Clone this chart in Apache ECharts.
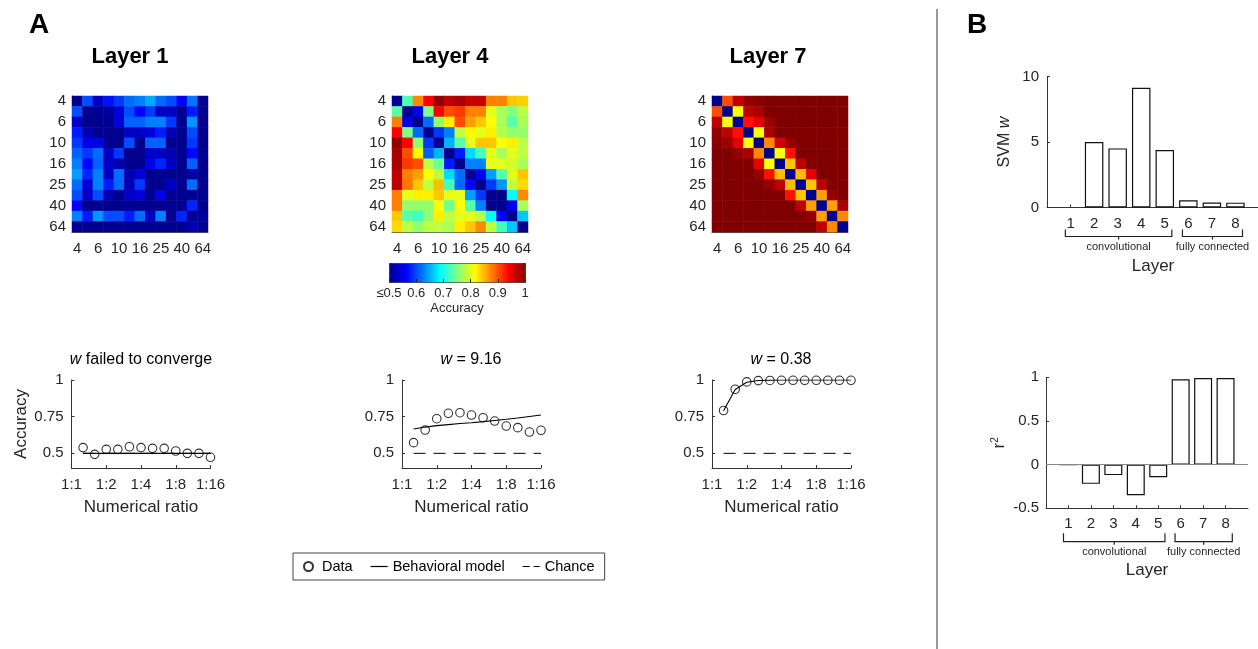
<!DOCTYPE html>
<html><head><meta charset="utf-8">
<script src="https://cdn.jsdelivr.net/npm/echarts@6/dist/echarts.min.js"></script>
<style>html,body{margin:0;padding:0;background:#fff}#c{width:1258px;height:649px}</style>
</head><body><div id="c"></div><script>
// ---------------- DATA ----------------
const numerosities = ['4','5','6','8','10','13','16','20','25','32','40','50','64'];

const layer1Acc = [
 [0.50,0.60,0.53,0.57,0.59,0.615,0.625,0.645,0.615,0.60,0.56,0.62,0.50],
 [0.60,0.50,0.50,0.51,0.54,0.60,0.56,0.59,0.53,0.53,0.50,0.575,0.50],
 [0.53,0.50,0.50,0.50,0.54,0.61,0.61,0.625,0.625,0.59,0.50,0.635,0.50],
 [0.575,0.52,0.50,0.50,0.50,0.53,0.53,0.54,0.575,0.52,0.50,0.60,0.50],
 [0.59,0.55,0.55,0.50,0.50,0.60,0.50,0.61,0.61,0.50,0.50,0.59,0.50],
 [0.61,0.59,0.615,0.53,0.59,0.50,0.50,0.53,0.53,0.52,0.50,0.565,0.50],
 [0.625,0.565,0.61,0.53,0.52,0.50,0.50,0.55,0.58,0.53,0.50,0.61,0.50],
 [0.64,0.58,0.625,0.53,0.615,0.52,0.54,0.50,0.50,0.50,0.50,0.51,0.50],
 [0.615,0.54,0.625,0.575,0.615,0.52,0.59,0.50,0.50,0.53,0.50,0.615,0.50],
 [0.60,0.53,0.60,0.52,0.50,0.53,0.54,0.50,0.55,0.50,0.50,0.50,0.50],
 [0.56,0.50,0.50,0.50,0.50,0.50,0.50,0.50,0.50,0.50,0.50,0.58,0.50],
 [0.625,0.575,0.635,0.60,0.60,0.575,0.615,0.53,0.625,0.50,0.58,0.50,0.51],
 [0.50,0.50,0.50,0.50,0.50,0.50,0.50,0.50,0.50,0.50,0.50,0.52,0.50]
];
const layer4Acc = [
 [0.50,0.725,0.87,0.94,0.99,0.97,0.98,0.965,0.965,0.875,0.875,0.84,0.835],
 [0.73,0.50,0.55,0.75,0.94,0.90,0.91,0.875,0.875,0.80,0.77,0.75,0.78],
 [0.875,0.55,0.50,0.615,0.76,0.82,0.90,0.86,0.84,0.81,0.77,0.73,0.77],
 [0.94,0.75,0.615,0.50,0.59,0.625,0.78,0.815,0.80,0.82,0.775,0.76,0.76],
 [0.99,0.94,0.76,0.59,0.50,0.65,0.73,0.80,0.84,0.84,0.81,0.82,0.78],
 [0.98,0.90,0.815,0.61,0.65,0.50,0.575,0.67,0.72,0.80,0.77,0.80,0.78],
 [0.98,0.91,0.90,0.78,0.74,0.575,0.50,0.625,0.625,0.80,0.80,0.79,0.77],
 [0.97,0.875,0.86,0.81,0.78,0.67,0.615,0.50,0.56,0.64,0.73,0.80,0.84],
 [0.97,0.88,0.84,0.78,0.845,0.72,0.615,0.56,0.50,0.59,0.635,0.78,0.83],
 [0.875,0.80,0.82,0.82,0.84,0.80,0.80,0.64,0.59,0.50,0.50,0.69,0.87],
 [0.875,0.76,0.76,0.76,0.81,0.74,0.81,0.73,0.625,0.50,0.50,0.55,0.77],
 [0.84,0.73,0.72,0.76,0.82,0.78,0.80,0.80,0.78,0.69,0.56,0.50,0.66],
 [0.83,0.78,0.76,0.78,0.78,0.77,0.82,0.84,0.87,0.78,0.72,0.66,0.50]
];
const layer7Acc = [
 [0.50,0.90,0.97,0.99,0.995,1,1,1,1,1,1,1,1],
 [0.90,0.50,0.81,0.97,0.98,1,1,1,1,1,1,1,1],
 [0.97,0.81,0.50,0.93,0.95,0.985,1,1,1,1,1,1,1],
 [0.99,0.97,0.93,0.50,0.81,0.98,1,1,1,1,1,1,1],
 [0.995,0.985,0.95,0.81,0.50,0.87,0.96,0.99,1,1,1,1,1],
 [1,1,0.99,0.98,0.87,0.50,0.81,0.93,1,1,1,1,1],
 [1,1,1,1,0.95,0.81,0.50,0.84,0.97,1,1,1,1],
 [1,1,1,1,0.99,0.93,0.845,0.50,0.845,0.95,1,1,1],
 [1,1,1,1,1,0.99,0.97,0.845,0.50,0.84,0.97,1,1],
 [1,1,1,1,1,1,1,0.93,0.84,0.50,0.86,0.99,1],
 [1,1,1,1,1,1,1,1,0.97,0.86,0.50,0.86,0.98],
 [1,1,1,1,1,1,1,1,1,0.99,0.86,0.50,0.87],
 [1,1,1,1,1,1,1,1,1,1,0.97,0.87,0.50]
];

// numerical ratio positions (log2 of ratio) and labels
const ratioX = [0.333,0.667,1,1.333,1.667,2,2.333,2.667,3,3.333,3.667,4];
const ratioTickLabels = ['1:1','1:2','1:4','1:8','1:16'];
const accTicks = [0.5,0.75,1];
const chanceLevel = 0.5;

const dataL1  = [0.539,0.493,0.527,0.527,0.545,0.539,0.534,0.534,0.516,0.500,0.500,0.473];
const modelL1 = [0.500,0.500,0.500,0.500,0.500,0.500,0.500,0.500,0.500,0.500,0.500,0.500];
const dataL4  = [0.573,0.659,0.736,0.773,0.777,0.761,0.743,0.720,0.686,0.675,0.645,0.657];
const modelL4 = [0.666,0.679,0.689,0.696,0.703,0.709,0.716,0.724,0.732,0.741,0.751,0.761];
const dataL7  = [0.792,0.937,0.987,0.996,0.997,0.998,0.998,0.998,0.998,0.998,0.998,0.998];
const modelL7 = [0.790,0.935,0.985,0.997,0.999,1.000,1.000,1.000,1.000,1.000,1.000,1.000];

const layerIds = [1,2,3,4,5,6,7,8];
const svmW = [null,5.0,4.52,9.16,4.39,0.55,0.38,0.37];
const r2   = [0,-0.22,-0.12,-0.35,-0.145,0.977,0.992,0.992];
const bracketLabels = ['convolutional','fully connected'];
const bracketRanges = [[0.78,5.3],[5.75,8.3]];

// ---------------- STYLE ----------------
const FONT = '"Liberation Sans", Arial, sans-serif';
const TXT = '#262626';
const AX = '#333';
const jet = ['#00008F','#0000FF','#0080FF','#00FFFF','#80FF80','#FFFF00','#FF8000','#FF0000','#800000'];

function heatData(m){ const out=[]; m.forEach((row,r)=>row.forEach((v,c)=>out.push([c,r,v]))); return out; }
function pts(xs, ys){ return ys.map((v,i)=>[xs[i], v]); }

const grids = [
 {left:72,  top:96, width:136, height:136},   //0 heat L1
 {left:392, top:96, width:136, height:136},   //1 heat L4
 {left:712, top:96, width:136, height:136},   //2 heat L7
 {left:389, top:263, width:136, height:19},   //3 colorbar axis
 {left:71.5, top:380, width:139, height:88},  //4 line L1
 {left:402, top:380, width:139, height:88},   //5 line L4
 {left:712, top:380, width:139, height:88},   //6 line L7
 {left:1047, top:76.7, width:212, height:130.8}, //7 SVM w
 {left:1046, top:377.3, width:202, height:131}   //8 r2
].map(g=>Object.assign({containLabel:false, outerBoundsMode:'none'}, g));

const lbl = (o)=>Object.assign({color:TXT, fontFamily:FONT, fontSize:15}, o||{});
const xAxes = [], yAxes = [];
[0,1,2].forEach(gi=>{
  xAxes.push({type:'category', gridIndex:gi, data:numerosities, axisLine:{show:true,lineStyle:{color:'#555'}},
    axisTick:{show:false}, splitLine:{show:false}, axisLabel:lbl({interval:1, margin:9})});
  yAxes.push({type:'category', gridIndex:gi, data:numerosities, inverse:true, axisLine:{show:true,lineStyle:{color:'#555'}},
    axisTick:{show:false}, splitLine:{show:false}, axisLabel:lbl({interval:1, margin:6})});
});
// colorbar axes
xAxes.push({type:'value', gridIndex:3, min:0.5, max:1, interval:0.1, position:'bottom', z:10,
  axisLine:{show:false}, axisTick:{show:true, inside:true, length:3, lineStyle:{color:'#222'}},
  splitLine:{show:false},
  axisLabel:lbl({fontSize:13, margin:5, formatter:(v)=> v<=0.5001 ? '≤0.5' : String(+v.toFixed(1))}),
  name:'Accuracy', nameLocation:'middle', nameGap:20, nameTextStyle:{color:TXT, fontFamily:FONT, fontSize:13}});
yAxes.push({type:'value', gridIndex:3, min:0, max:1, show:false});
// line chart axes
[4,5,6].forEach((gi,k)=>{
  xAxes.push({type:'value', gridIndex:gi, min:0, max:4, interval:1,
    axisLine:{show:true, lineStyle:{color:AX}}, axisTick:{show:true, inside:true, length:3, lineStyle:{color:AX}},
    splitLine:{show:false},
    axisLabel:lbl({margin:9.5, formatter:(v)=>ratioTickLabels[Math.round(v)]}),
    name:'Numerical ratio', nameLocation:'middle', nameGap:31, nameTextStyle:{color:TXT, fontFamily:FONT, fontSize:17}});
  const ya = {type:'value', gridIndex:gi, min:0.4, max:1,
    axisLine:{show:true, lineStyle:{color:AX}},
    axisTick:{show:true, inside:true, length:3, customValues:accTicks, lineStyle:{color:AX}},
    splitLine:{show:false},
    axisLabel:lbl({margin:8, customValues:accTicks})};
  if(k===0){ Object.assign(ya,{name:'Accuracy', nameLocation:'middle', nameGap:42, nameRotate:90,
    nameTextStyle:{color:TXT, fontFamily:FONT, fontSize:17}}); }
  yAxes.push(ya);
});
// bar chart axes
[7,8].forEach((gi,k)=>{
  xAxes.push({type:'value', gridIndex:gi, min:0, max:9, interval:1,
    axisLine:{show:true, onZero:false, lineStyle:{color:AX}},
    axisTick:{show:true, inside:true, length:3, customValues:layerIds, lineStyle:{color:AX}},
    splitLine:{show:false},
    axisLabel:lbl({margin:8.5, customValues:layerIds}),
    name:'Layer', nameLocation:'middle', nameGap: k===0 ? 50 : 54,
    nameTextStyle:{color:TXT, fontFamily:FONT, fontSize:17}});
});
yAxes.push({type:'value', gridIndex:7, min:0, max:10, interval:5,
  axisLine:{show:true, lineStyle:{color:AX}}, axisTick:{show:true, inside:true, length:3, lineStyle:{color:AX}},
  splitLine:{show:false}, axisLabel:lbl({margin:8}),
  name:'{n|SVM }{i|w}', nameLocation:'middle', nameGap:34, nameRotate:90,
  nameTextStyle:{color:TXT, fontFamily:FONT, fontSize:16,
    rich:{n:{fontSize:16, fontFamily:FONT, color:TXT}, i:{fontSize:16, fontFamily:FONT, color:TXT, fontStyle:'italic'}}}});
yAxes.push({type:'value', gridIndex:8, min:-0.5, max:1, interval:0.5,
  axisLine:{show:true, onZero:false, lineStyle:{color:AX}}, axisTick:{show:true, inside:true, length:3, lineStyle:{color:AX}},
  splitLine:{show:false}, axisLabel:lbl({margin:7}),
  name:'{r|r}{s|2}', nameLocation:'middle', nameGap:38, nameRotate:90,
  nameTextStyle:{color:TXT, fontFamily:FONT, fontSize:16,
    rich:{r:{fontSize:17, fontFamily:FONT, color:TXT}, s:{fontSize:10, fontFamily:FONT, color:TXT, verticalAlign:'top', padding:[0,0,8,0]}}}});

const series = [];
[layer1Acc, layer4Acc, layer7Acc].forEach((m,i)=>{
  series.push({type:'heatmap', xAxisIndex:i, yAxisIndex:i, data:heatData(m), silent:true, progressive:0,
    itemStyle:{borderWidth:0}, emphasis:{disabled:true}});
});
const lineSets = [[dataL1, modelL1],[dataL4, modelL4],[dataL7, modelL7]];
lineSets.forEach((s,k)=>{
  const ai = 4+k;
  series.push({type:'line', name:'Chance', xAxisIndex:ai, yAxisIndex:ai, symbol:'none', silent:true,
    data:[[ratioX[0], chanceLevel],[ratioX[ratioX.length-1], chanceLevel]],
    itemStyle:{color:'#000'}, lineStyle:{color:'#000', width:1, type:[12,8]}, z:2});
  series.push({type:'line', name:'Behavioral model', xAxisIndex:ai, yAxisIndex:ai, symbol:'none', silent:true,
    data:pts(ratioX, s[1]), itemStyle:{color:'#000'}, lineStyle:{color:'#000', width:1.1}, z:3});
  series.push({type:'scatter', name:'Data', xAxisIndex:ai, yAxisIndex:ai, symbol:'circle', symbolSize:8.5, silent:true,
    data:pts(ratioX, s[0]), itemStyle:{color:'transparent', borderColor:'#000', borderWidth:1.1}, z:4});
});
const barStyle = {color:'#fff', borderColor:'#111', borderWidth:1.2};
series.push({type:'bar', xAxisIndex:7, yAxisIndex:7, barWidth:18.5, silent:true,
  data: svmW.map((v,i)=>[layerIds[i], v===null ? '-' : v]), itemStyle:barStyle});
series.push({type:'bar', xAxisIndex:8, yAxisIndex:8, barWidth:18, silent:true,
  data: r2.map((v,i)=>[layerIds[i], v]), itemStyle:barStyle,
  markLine:{silent:true, symbol:'none', label:{show:false}, lineStyle:{color:'#888', type:'solid', width:1},
    data:[{yAxis:0}]}});

function bracketSeries(ai, yBase, off, up, textOff){
  return {type:'custom', xAxisIndex:ai, yAxisIndex:ai, clip:false, silent:true,
    encode:{x:[0,1], y:2},
    data: bracketRanges.map(r=>[r[0], r[1], yBase]),
    renderItem:(params, api)=>{
      const a = api.coord([api.value(0), api.value(2)]);
      const b = api.coord([api.value(1), api.value(2)]);
      const y = a[1] + off, mx = (a[0]+b[0])/2;
      return {type:'group', children:[
        {type:'polyline', shape:{points:[[a[0],y-up],[a[0],y],[b[0],y],[b[0],y-up]]}, style:{stroke:'#222', fill:null, lineWidth:1.2}},
        {type:'line', shape:{x1:mx, y1:y, x2:mx, y2:y+3}, style:{stroke:'#222', lineWidth:1.2}},
        {type:'text', x:mx, y:y+textOff, style:{text:bracketLabels[params.dataIndex], fill:TXT,
          font:'11px '+FONT, align:'center', verticalAlign:'middle'}}
      ]};
    }};
}
series.push(bracketSeries(7, 0, 29, 7, 10));
series.push(bracketSeries(8, -0.5, 33.4, 8.5, 10.5));

const titleFont = 'bold 22px '+FONT;
const subRich = {i:{fontStyle:'italic', fontSize:16, fontFamily:FONT, fill:'#000'}, n:{fontSize:16, fontFamily:FONT, fill:'#000'}};
const graphic = [
  {type:'text', x:39, y:25, style:{text:'A', font:'bold 28px '+FONT, fill:'#000', align:'center', verticalAlign:'middle'}},
  {type:'text', x:977, y:25, style:{text:'B', font:'bold 28px '+FONT, fill:'#000', align:'center', verticalAlign:'middle'}},
  {type:'text', x:130, y:57, style:{text:'Layer 1', font:titleFont, fill:'#000', align:'center', verticalAlign:'middle'}},
  {type:'text', x:450, y:57, style:{text:'Layer 4', font:titleFont, fill:'#000', align:'center', verticalAlign:'middle'}},
  {type:'text', x:768, y:57, style:{text:'Layer 7', font:titleFont, fill:'#000', align:'center', verticalAlign:'middle'}},
  {type:'text', x:141, y:360, style:{text:'{i|w}{n| failed to converge}', rich:subRich, align:'center', verticalAlign:'middle'}},
  {type:'text', x:471, y:360, style:{text:'{i|w}{n| = 9.16}', rich:subRich, align:'center', verticalAlign:'middle'}},
  {type:'text', x:781, y:360, style:{text:'{i|w}{n| = 0.38}', rich:subRich, align:'center', verticalAlign:'middle'}},
  {type:'line', shape:{x1:937, y1:9, x2:937, y2:649}, style:{stroke:'#999', lineWidth:2}}
];

const chart = echarts.init(document.getElementById('c'), null, {renderer:'canvas'});
chart.setOption({
  animation:false,
  backgroundColor:'#fff',
  textStyle:{fontFamily:FONT},
  grid:grids, xAxis:xAxes, yAxis:yAxes, series:series, graphic:graphic,
  visualMap:[{type:'continuous', min:0.5, max:1, seriesIndex:[0,1,2], orient:'horizontal',
    left:389, top:263, itemWidth:19, itemHeight:136, calculable:false, realtime:false, hoverLink:false,
    padding:0, borderColor:'#222', borderWidth:1, text:null, showLabel:false,
    inRange:{color:jet}}],
  legend:{left:293, top:553, orient:'horizontal', padding:[6,10,6,10], itemGap:18, itemWidth:17, itemHeight:9,
    borderColor:'#444', borderWidth:1, borderRadius:0, backgroundColor:'#fff', selectedMode:false,
    textStyle:{fontSize:14.5, color:'#000', fontFamily:FONT},
    data:[
      {name:'Data'},
      {name:'Behavioral model', icon:'path://M0,0H17V1.2H0Z', itemStyle:{color:'#000', borderWidth:0}},
      {name:'Chance', icon:'path://M0,0H7V1.2H0ZM11,0H17V1.2H11Z', itemStyle:{color:'#000', borderWidth:0}}
    ]}
});
</script></body></html>
